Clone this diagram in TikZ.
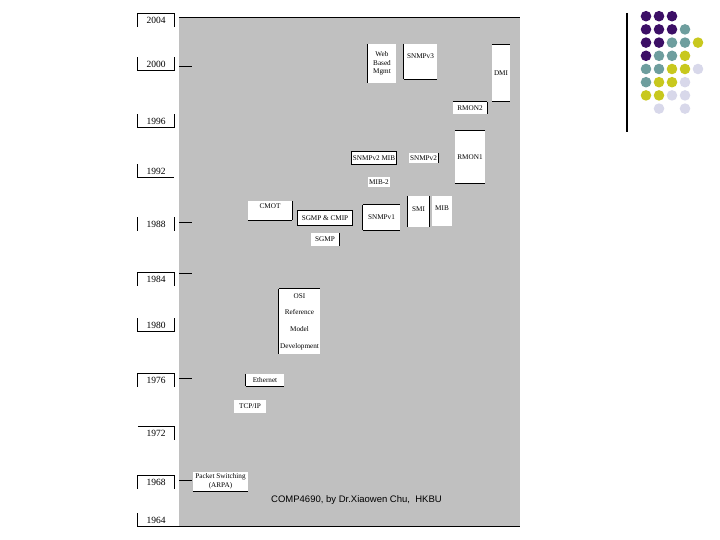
\documentclass[tikz,border=0pt]{standalone}
\usepackage{fontspec}
\setmainfont{Liberation Serif}
\newfontfamily\footfont{Liberation Sans}
\definecolor{panel}{HTML}{C0C0C0}
\definecolor{dpurple}{HTML}{3C0F66}
\definecolor{dteal}{HTML}{6E9E9E}
\definecolor{dyellow}{HTML}{C8C81E}
\definecolor{dlav}{HTML}{D8D8EA}
\tikzset{
  tl/.style={fill=white, inner sep=0pt, align=center, font=\fontsize{7.2}{8.6}\selectfont},
  yr/.style={inner sep=0pt, minimum width=36, minimum height=13, font=\fontsize{9.5}{10}\selectfont},
  edgeline/.style={line width=0.9pt, black},
  dotp/.style={fill=dpurple}, dott/.style={fill=dteal}, doty/.style={fill=dyellow}, dotl/.style={fill=dlav}
}
\newcommand\tlnode[6]{\node[tl,minimum width={(#4)-(#2)},minimum height={(#5)-(#3)}] (#1) at ({((#2)+(#4))/2},{((#3)+(#5))/2}) {#6};}
\newcommand\bL[1]{\draw[edgeline] (#1.north west) -- (#1.south west);}
\newcommand\bR[1]{\draw[edgeline] (#1.north east) -- (#1.south east);}
\newcommand\bT[1]{\draw[edgeline] (#1.north west) -- (#1.north east);}
\newcommand\bB[1]{\draw[edgeline] (#1.south west) -- (#1.south east);}
\newcommand\bAll[1]{\draw[edgeline] (#1.north west) rectangle (#1.south east);}
\begin{document}
\begin{tikzpicture}[x=1pt,y=-1pt]
\useasboundingbox (0,0) rectangle (720,540);
\fill[panel] (179,17) rectangle (520,526);
% timeline frame lines and ticks
\draw[edgeline] (179,17) -- (520,17);
\draw[edgeline] (138,526) -- (520,526);
\foreach \ty in {66,222,273,378,480} {\draw[edgeline] (179,\ty) -- (192,\ty);}
% year labels
\node[yr] (y2004) at (156,20) {2004}; \bT{y2004}\bL{y2004}\bR{y2004}
\node[yr] (y2000) at (156,64) {2000}; \bL{y2000}\bB{y2000}\bR{y2000}
\node[yr] (y1996) at (156,121) {1996}; \bL{y1996}\bB{y1996}\bR{y1996}
\node[yr] (y1992) at (156,171) {1992}; \bL{y1992}\bB{y1992}
\node[yr] (y1988) at (156,224) {1988}; \bL{y1988}\bR{y1988}
\node[yr] (y1984) at (156,279) {1984}; \bT{y1984}\bL{y1984}\bR{y1984}
\node[yr] (y1980) at (156,325) {1980}; \bL{y1980}\bB{y1980}\bR{y1980}
\node[yr] (y1976) at (156,380) {1976}; \bT{y1976}\bL{y1976}\bR{y1976}
\node[yr] (y1972) at (156,433) {1972}; \bT{y1972}\bR{y1972}
\node[yr] (y1968) at (156,482) {1968}; \bT{y1968}\bL{y1968}\bR{y1968}
\node[yr] (y1964) at (156,520) {1964}; \bL{y1964}
% event boxes
\tlnode{web}{368}{44}{396}{83}{Web\\Based\\Mgmt} \bL{web}
\tlnode{snmpthree}{404}{44}{437}{79}{\raisebox{10pt}{SNMPv3}} \bL{snmpthree}\bB{snmpthree}
\tlnode{dmi}{492}{45}{510}{101}{DMI} \bT{dmi}\bB{dmi}
\tlnode{rmontwo}{453}{102}{487}{114}{RMON2} \bT{rmontwo}\bR{rmontwo}
\tlnode{rmonone}{455}{131}{485}{183}{RMON1} \bT{rmonone}\bB{rmonone}
\tlnode{snmptwomib}{352}{152}{396}{164}{SNMPv2 MIB} \bAll{snmptwomib}
\tlnode{snmptwo}{409}{153}{438}{163}{SNMPv2} \bR{snmptwo}
\tlnode{mibtwo}{368}{177}{390}{187}{MIB-2}
\tlnode{cmot}{248}{201}{292}{220}{\raisebox{8pt}{CMOT}} \bR{cmot}\bB{cmot}
\tlnode{sgmpcmip}{298}{211}{352}{225}{SGMP \& CMIP} \bAll{sgmpcmip}
\tlnode{sgmp}{311}{233}{339}{246}{SGMP} \bR{sgmp}
\tlnode{snmpone}{363}{205}{400}{230}{\raisebox{-2pt}{SNMPv1}} \bL{snmpone}\bT{snmpone}\bB{snmpone}
\tlnode{smi}{408}{196}{429}{227}{\raisebox{5pt}{SMI}} \bL{smi}\bR{smi}
\tlnode{mib}{432}{196}{452}{226}{\raisebox{5pt}{MIB}}
\tlnode{osi}{279}{289}{320}{354}{OSI\\[8pt]Reference\\[8pt]Model\\[8pt]Development} \bL{osi}\bT{osi}
\tlnode{ethernet}{246}{374}{284}{386}{Ethernet} \bL{ethernet}\bB{ethernet}
\tlnode{tcpip}{234}{400}{266}{413}{TCP/IP}
\tlnode{packet}{193}{472}{248}{491}{Packet Switching\\(ARPA)} \bB{packet}
% footer
\node[anchor=west, inner sep=0pt, font=\footfont\fontsize{9.5}{11}\selectfont] (footer) at (271,500) {COMP4690, by Dr.Xiaowen Chu,\ \ HKBU};
% decoration: line and dot grid
\draw[line width=1.3pt] (627,13) -- (627,132);
\foreach \row/\cols in {
  1/{p,p,p},
  2/{p,p,p,t},
  3/{p,p,t,t,y},
  4/{p,t,t,y},
  5/{t,t,y,y,l},
  6/{t,y,y,l},
  7/{y,y,l,l}} {
  \foreach \c [count=\i] in \cols {
    \fill[dot\c] ({633+13*\i},{3+13.2*\row}) circle (5.3);
  }
}
\fill[dotl] (659,{3+13.2*8}) circle (5.3);
\fill[dotl] (685,{3+13.2*8}) circle (5.3);
\end{tikzpicture}
\end{document}
